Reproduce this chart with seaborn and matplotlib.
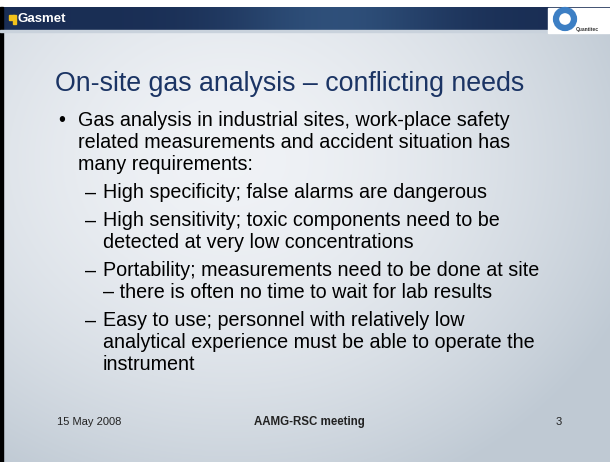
import numpy as np
import seaborn as sns
import matplotlib.pyplot as plt
from matplotlib.patches import Rectangle, Circle

sns.set_theme(style="white")
plt.rcParams['font.family'] = ['Liberation Sans', 'DejaVu Sans']

title = "On-site gas analysis \u2013 conflicting needs"
bullet_lines = ["Gas analysis in industrial sites, work-place safety",
                "related measurements and accident situation has",
                "many requirements:"]
sub_items = [["High specificity; false alarms are dangerous"],
             ["High sensitivity; toxic components need to be",
              "detected at very low concentrations"],
             ["Portability; measurements need to be done at site",
              "\u2013 there is often no time to wait for lab results"],
             ["Easy to use; personnel with relatively low",
              "analytical experience must be able to operate the",
              "instrument"]]
footer_date = "15 May 2008"
footer_event = "AAMG-RSC meeting"
footer_page = "3"

W, H = 610, 462
fig = plt.figure(figsize=(6.1, 4.62), dpi=100)
ax = fig.add_axes([0, 0, 1, 1])
ax.set_xlim(0, W)
ax.set_ylim(H, 0)
ax.axis('off')

# cloudy background
yy, xx = np.mgrid[0:H, 0:W]
d = np.sqrt(((xx - 230) / 430.0) ** 2 + ((yy - 160) / 360.0) ** 2)
c1 = np.array([0.94, 0.95, 0.965])
c2 = np.array([0.75, 0.79, 0.83])
t = np.clip(d, 0, 1)[..., None] ** 1.7
bg = c1 * (1 - t) + c2 * t
ax.imshow(bg, extent=(0, W, H, 0), zorder=0, aspect='auto')

# header
ax.add_patch(Rectangle((0, 0), W, 7, color='white', zorder=1))
hx = np.linspace(0, 1, 300)
band = np.exp(-((hx - 0.55) / 0.18) ** 2) * 0.55
hdr = np.array([0.10, 0.18, 0.33])[None, :] * (1 - band[:, None]) + \
      np.array([0.25, 0.42, 0.60])[None, :] * band[:, None]
ax.imshow(hdr[None, :, :], extent=(0, W, 31, 7), zorder=1, aspect='auto')
ax.add_patch(Rectangle((0, 7), 3, H - 7, color='black', zorder=2))
ax.add_patch(Rectangle((0, 30), W, 1.5, color='#c9d2dc', zorder=2))

# Gasmet logo
ax.add_patch(Rectangle((9, 15), 5, 5, color='#f2c21b', zorder=3))
ax.add_patch(Rectangle((13, 15), 3, 9, color='#f2c21b', zorder=3))
ax.text(17, 19, "Gasmet", color='white', fontsize=9.5, fontweight='bold',
        va='center', ha='left', zorder=3)

# Quantitec logo
ax.add_patch(Rectangle((548, 8), 62, 25, color='white', zorder=3))
ax.add_patch(Circle((565, 19), 9, fill=False, lw=4.5, color='#3d7fc4', zorder=4))
ax.text(576, 29, "Quantitec", color='#333333', fontsize=3.6, fontweight='bold',
        va='center', ha='left', zorder=4)

# title
ax.text(55, 84, title, color='#1b3464', fontsize=19.3, va='center', ha='left', zorder=5)

# bullets
fs = 14.2
step = 22
y = 121
ax.text(58, y, "\u2022", color='black', fontsize=fs, va='center', ha='left', zorder=5)
for line in bullet_lines:
    ax.text(78, y, line, color='black', fontsize=fs, va='center', ha='left', zorder=5)
    y += step
y += 6
for item in sub_items:
    ax.text(85, y, "\u2013", color='black', fontsize=fs, va='center', ha='left', zorder=5)
    for line in item:
        ax.text(103, y, line, color='black', fontsize=fs, va='center', ha='left', zorder=5)
        y += step
    y += 6

# footer
ax.text(57, 422, footer_date, fontsize=8, color='#222222', va='center', ha='left', zorder=5)
ax.text(309, 422, footer_event, fontsize=8.3, fontweight='bold', color='#222222',
        va='center', ha='center', zorder=5)
ax.text(562, 422, footer_page, fontsize=8, color='#222222', va='center', ha='right', zorder=5)

fig.savefig("out.png", dpi=100)
